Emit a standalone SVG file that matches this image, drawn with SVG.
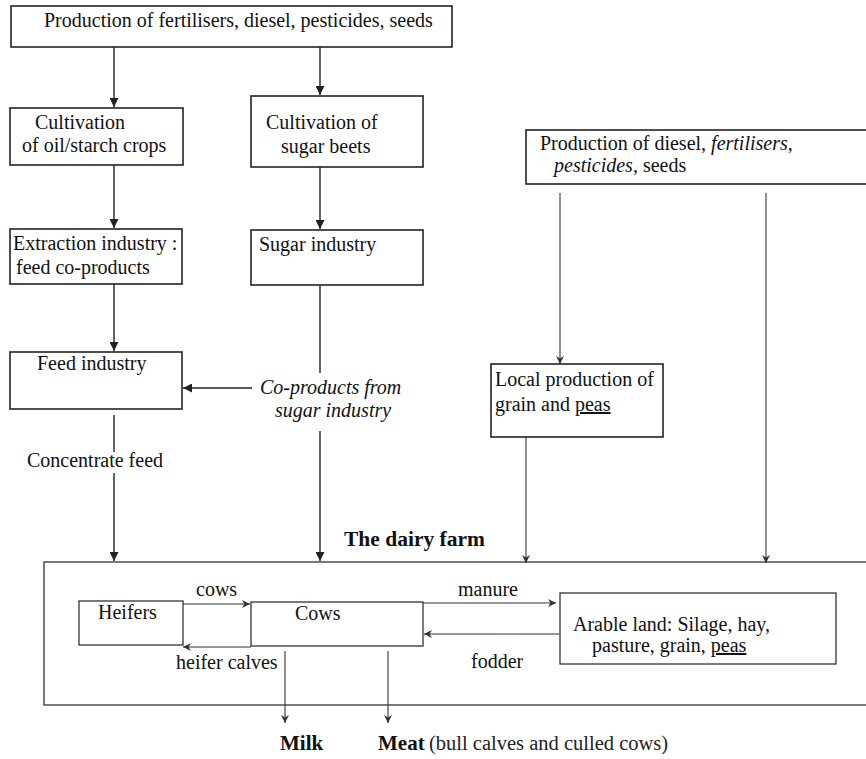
<svg xmlns="http://www.w3.org/2000/svg" width="866" height="759" viewBox="0 0 866 759">
  <style>
    text { font-family: "Liberation Serif", "DejaVu Serif", serif; font-size: 20px; fill: #111; }
    .it { font-style: italic; }
    .b { font-weight: bold; }
    .title { font-size: 21.5px; }
    .out { font-size: 21px; }
    .note { font-size: 20.5px; fill: #222; }
    .box { fill: #fff; stroke: #222; stroke-width: 1.6; }
    .box2 { fill: none; stroke: #333; stroke-width: 1.3; }
    .ln { fill: none; stroke: #222; stroke-width: 1.4; }
    .ln2 { fill: none; stroke: #333; stroke-width: 1.1; }
  </style>
  <defs>
    <marker id="ah" viewBox="0 0 10 10" refX="10" refY="5" markerWidth="9" markerHeight="9" markerUnits="userSpaceOnUse" orient="auto">
      <path d="M0,0 L10,5 L0,10 z" fill="#222"/>
    </marker>
    <marker id="ah2" viewBox="0 0 10 10" refX="10" refY="5" markerWidth="8" markerHeight="8" markerUnits="userSpaceOnUse" orient="auto">
      <path d="M0,0 L10,5 L0,10 L3,5 z" fill="#333"/>
    </marker>
  </defs>

  <rect width="866" height="759" fill="#fff"/>

  <g id="connectors">
    <line class="ln" x1="114" y1="47" x2="114" y2="107" marker-end="url(#ah)"/>
    <line class="ln" x1="320" y1="47" x2="320" y2="95" marker-end="url(#ah)"/>
    <line class="ln" x1="114" y1="165" x2="114" y2="228" marker-end="url(#ah)"/>
    <line class="ln" x1="320" y1="167" x2="320" y2="229" marker-end="url(#ah)"/>
    <line class="ln" x1="114" y1="284" x2="114" y2="351" marker-end="url(#ah)"/>
    <line class="ln" x1="320" y1="285" x2="320" y2="373"/>
    <line class="ln" x1="252" y1="388" x2="183" y2="388" marker-end="url(#ah)"/>
    <line class="ln" x1="320" y1="431" x2="320" y2="561" marker-end="url(#ah)"/>
    <line class="ln" x1="114" y1="415" x2="114" y2="452"/>
    <line class="ln" x1="114" y1="473" x2="114" y2="561" marker-end="url(#ah)"/>
    <line class="ln2" x1="560" y1="193" x2="560" y2="364" marker-end="url(#ah2)"/>
    <line class="ln2" x1="766" y1="193" x2="766" y2="563" marker-end="url(#ah2)"/>
    <line class="ln2" x1="526" y1="437" x2="526" y2="563" marker-end="url(#ah2)"/>
    <line class="ln2" x1="183" y1="604" x2="250" y2="604" marker-end="url(#ah2)"/>
    <line class="ln2" x1="251" y1="647" x2="183" y2="647" marker-end="url(#ah2)"/>
    <line class="ln2" x1="285" y1="651" x2="285" y2="723" marker-end="url(#ah2)"/>
    <line class="ln2" x1="388" y1="651" x2="388" y2="723" marker-end="url(#ah2)"/>
    <line class="ln2" x1="423" y1="603" x2="556" y2="603" marker-end="url(#ah2)"/>
    <line class="ln2" x1="559" y1="634" x2="424" y2="634" marker-end="url(#ah2)"/>
  </g>

  <g id="inputs-top">
    <rect class="box" x="11" y="6" width="441" height="41"/>
    <text x="44" y="27">Production of fertilisers, diesel, pesticides, seeds</text>
  </g>

  <g id="oil-crops">
    <rect class="box" x="10" y="108" width="173" height="57"/>
    <text x="35" y="129">Cultivation</text>
    <text x="22" y="152">of oil/starch crops</text>
  </g>

  <g id="sugar-beets">
    <rect class="box" x="251" y="96" width="172" height="71"/>
    <text x="266" y="129">Cultivation of</text>
    <text x="281" y="153">sugar beets</text>
  </g>

  <g id="extraction">
    <rect class="box" x="10" y="229" width="172" height="55"/>
    <text x="13" y="250">Extraction industry :</text>
    <text x="16" y="274">feed co-products</text>
  </g>

  <g id="sugar-industry">
    <rect class="box" x="251" y="230" width="172" height="55"/>
    <text x="259" y="251">Sugar industry</text>
  </g>

  <g id="feed-industry">
    <rect class="box" x="10" y="352" width="172" height="57"/>
    <text x="37" y="370">Feed industry</text>
  </g>

  <g id="co-products">
    <text class="it" x="260" y="394">Co-products from</text>
    <text class="it" x="275" y="417">sugar industry</text>
  </g>

  <g id="concentrate">
    <text x="27" y="467">Concentrate feed</text>
  </g>

  <g id="inputs-local">
    <rect class="box" x="526" y="130" width="345" height="54"/>
    <text x="540" y="150">Production of diesel, <tspan class="it">fertilisers</tspan>,</text>
    <text x="554" y="172"><tspan class="it">pesticides</tspan>, seeds</text>
  </g>

  <g id="local-production">
    <rect class="box" x="491" y="364" width="172" height="73"/>
    <text x="495" y="386">Local production of</text>
    <text x="495" y="411">grain and <tspan text-decoration="underline">peas</tspan></text>
  </g>

  <g id="dairy-farm">
    <text class="b title" x="344" y="546">The dairy farm</text>
    <rect class="box2" x="44" y="562" width="830" height="143"/>
  </g>

  <g id="heifers">
    <rect class="box2" x="79" y="601" width="104" height="44"/>
    <text x="98" y="619">Heifers</text>
  </g>

  <g id="cows">
    <rect class="box2" x="251" y="602" width="172" height="44"/>
    <text x="295" y="620">Cows</text>
  </g>

  <g id="arable-land">
    <rect class="box2" x="560" y="593" width="276" height="71"/>
    <text x="573" y="631">Arable land: Silage, hay,</text>
    <text x="592" y="652">pasture, grain, <tspan text-decoration="underline">peas</tspan></text>
  </g>

  <g id="flow-labels">
    <text x="196" y="596">cows</text>
    <text x="176" y="669">heifer calves</text>
    <text x="458" y="596">manure</text>
    <text x="471" y="668">fodder</text>
  </g>

  <g id="outputs">
    <text class="b out" x="280" y="750">Milk</text>
    <text class="b out" x="378" y="750">Meat</text>
    <text class="note" x="429" y="750">(bull calves and culled cows)</text>
  </g>
</svg>
